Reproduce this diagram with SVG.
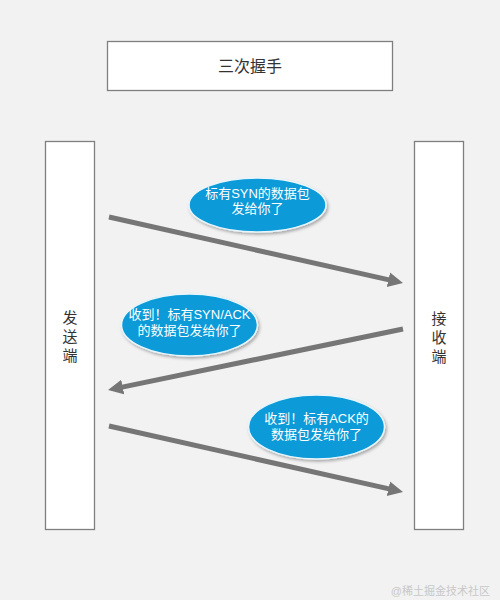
<svg xmlns="http://www.w3.org/2000/svg" width="500" height="600" viewBox="0 0 500 600">
<style>
.box{fill:#ffffff;stroke:#7f7f7f;stroke-width:1.3}
.t{font-family:"Liberation Sans","Noto Sans CJK SC",sans-serif;fill:#333333;text-anchor:middle;dominant-baseline:central}
.bub{fill:#0a9ad8;stroke:#e8f6fc;stroke-width:1.5;filter:url(#sh)}
.bt{font-family:"Liberation Sans","Noto Sans CJK SC",sans-serif;fill:#ffffff;font-size:13px;text-anchor:middle;dominant-baseline:central}
.arr{stroke:#767676;stroke-width:5;fill:none;marker-end:url(#ah)}
</style>
<defs>
<marker id="ah" markerUnits="userSpaceOnUse" markerWidth="16" markerHeight="18" viewBox="0 -8 16 16" refX="3" refY="0" orient="auto">
<path d="M0,-7.5 L15,0 L0,7.5 z" fill="#767676"/>
</marker>
<filter id="sh" x="-20%" y="-20%" width="140%" height="150%">
<feDropShadow dx="1.5" dy="2" stdDeviation="1.5" flood-color="#000" flood-opacity="0.3"/>
</filter>
</defs>
<rect width="500" height="600" fill="#f2f2f2"/>
<g id="title">
<rect class="box" x="107.5" y="41.5" width="285" height="49"/>
<text class="t" x="250" y="66" font-size="16">三次握手</text>
</g>
<g id="sender">
<rect class="box" x="45.5" y="141.5" width="49" height="388"/>
<text class="t" x="70" y="317" font-size="15">发</text>
<text class="t" x="70" y="336" font-size="15">送</text>
<text class="t" x="70" y="355" font-size="15">端</text>
</g>
<g id="receiver">
<rect class="box" x="414.5" y="141.5" width="49" height="388"/>
<text class="t" x="439" y="318" font-size="15">接</text>
<text class="t" x="439" y="337" font-size="15">收</text>
<text class="t" x="439" y="356" font-size="15">端</text>
</g>
<g id="connectors">
<path class="arr" d="M109,217 L391.3,280.4"/>
<path class="arr" d="M403,329 L119.8,387.6"/>
<path class="arr" d="M109,426 L391.3,489.4"/>
</g>
<g id="msg1">
<ellipse class="bub" cx="257.5" cy="205" rx="68.5" ry="27"/>
<text class="bt" x="257.5" y="193">标有SYN的数据包</text>
<text class="bt" x="257.5" y="208">发给你了</text>
</g>
<g id="msg2">
<ellipse class="bub" cx="189.5" cy="325" rx="68" ry="31"/>
<text class="bt" x="189.5" y="314">收到！标有SYN/ACK</text>
<text class="bt" x="189.5" y="330">的数据包发给你了</text>
</g>
<g id="msg3">
<ellipse class="bub" cx="316.5" cy="427" rx="68" ry="32"/>
<text class="bt" x="316.5" y="418">收到！标有ACK的</text>
<text class="bt" x="316.5" y="434">数据包发给你了</text>
</g>
<text x="490" y="591" font-family="Liberation Sans,'Noto Sans CJK SC',sans-serif" font-size="11" fill="#c8c8c8" text-anchor="end" dominant-baseline="central">@稀土掘金技术社区</text>
</svg>
